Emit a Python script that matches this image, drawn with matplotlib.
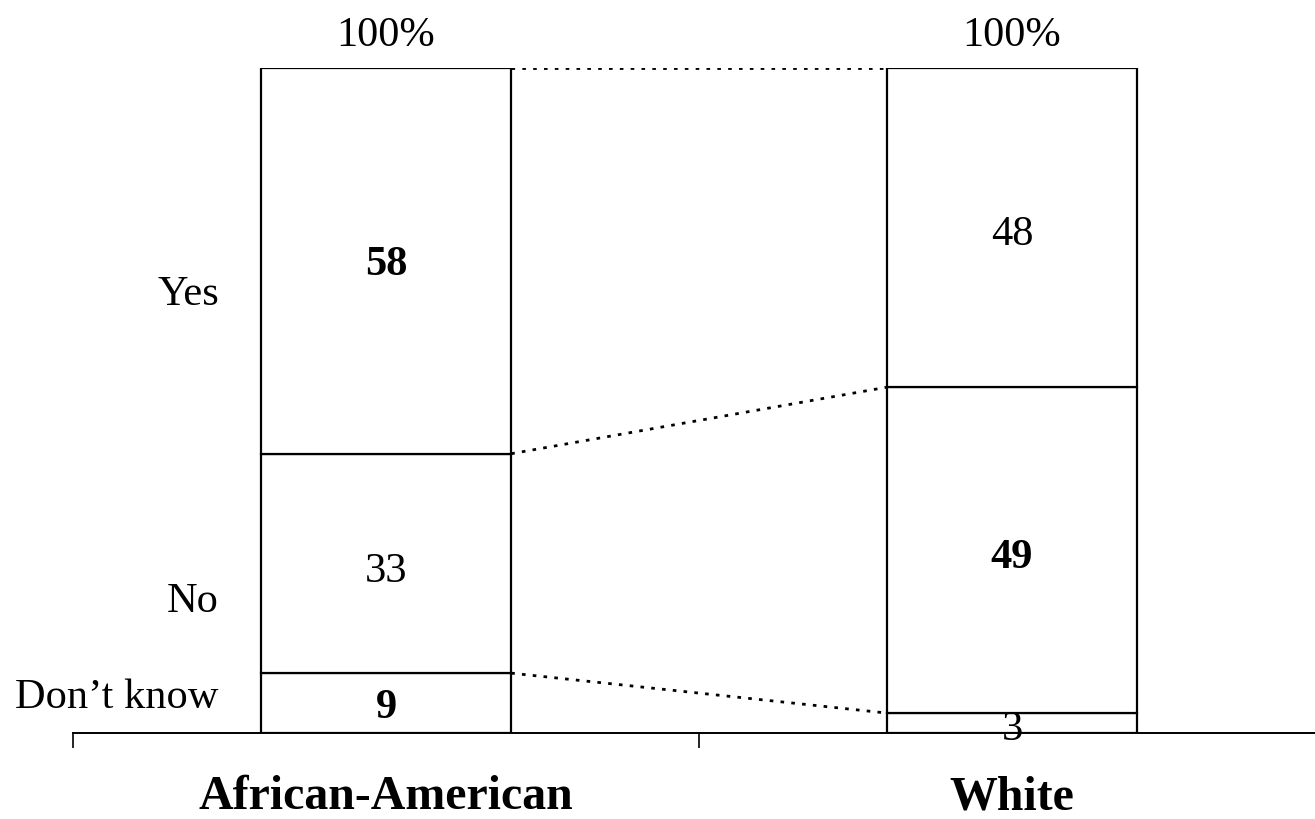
import matplotlib
matplotlib.use("Agg")
import matplotlib.pyplot as plt

groups = ["African-American", "White"]
responses = ["Don\u2019t know", "No", "Yes"]
aa_values = [9, 33, 58]
white_values = [3, 49, 48]
aa_bold = [True, False, True]
white_bold = [False, True, False]

plt.rcParams['font.family'] = ['Liberation Serif', 'DejaVu Serif']

FS = 30.5
fig = plt.figure(figsize=(13.15, 8.19), dpi=100)
ax = fig.add_axes([73/1315, 1-733/819, 1252/1315, 665/819])
ax.set_xlim(0, 2)
ax.set_ylim(0, 100)

xs = [0.5, 1.5]
width = 0.4
series = [aa_values, white_values]
bolds = [aa_bold, white_bold]
# text baselines of the value labels (axis units), bottom segment first
label_baselines = [[2.3, 22.7, 68.9], [-1.05, 24.8, 73.4]]
tops = []
for x, vals, bl, bases in zip(xs, series, bolds, label_baselines):
    bottom = 0
    t = []
    for v, b, yb in zip(vals, bl, bases):
        ax.bar(x, v, width=width, bottom=bottom, color='white', edgecolor='black', linewidth=1.6, zorder=2)
        ax.text(x, yb, str(v), ha='center', va='baseline', fontsize=FS,
                fontweight='bold' if b else 'normal', zorder=3, clip_on=False)
        bottom += v
        t.append(bottom)
    tops.append(t)
    ax.text(x, 103.3, "100%", ha='center', va='baseline', fontsize=FS, clip_on=False)

# connectors between segment boundaries
for ya, yw in zip(tops[0], tops[1]):
    ax.plot([xs[0]+width/2, xs[1]-width/2], [ya, yw], color='black', linestyle=(0, (1.3, 2.6)), linewidth=2.0, zorder=1)

# response labels (baselines)
label_y = [3.76, 18.2, 64.4]
for lbl, y in zip(responses, label_y):
    ax.text(0.233, y, lbl, ha='right', va='baseline', fontsize=FS)

for s in ['top', 'right', 'left']:
    ax.spines[s].set_visible(False)
ax.spines['bottom'].set_linewidth(1.4)
ax.set_yticks([])
ax.set_xticks([0, 1, 2])
ax.set_xticklabels([])
ax.tick_params(axis='x', direction='out', length=11, width=1.2)
for x, g in zip(xs, groups):
    ax.text(x, -11.5, g, ha='center', va='baseline', fontsize=34.5, fontweight='bold', clip_on=False)

fig.savefig("out.png", dpi=100)
